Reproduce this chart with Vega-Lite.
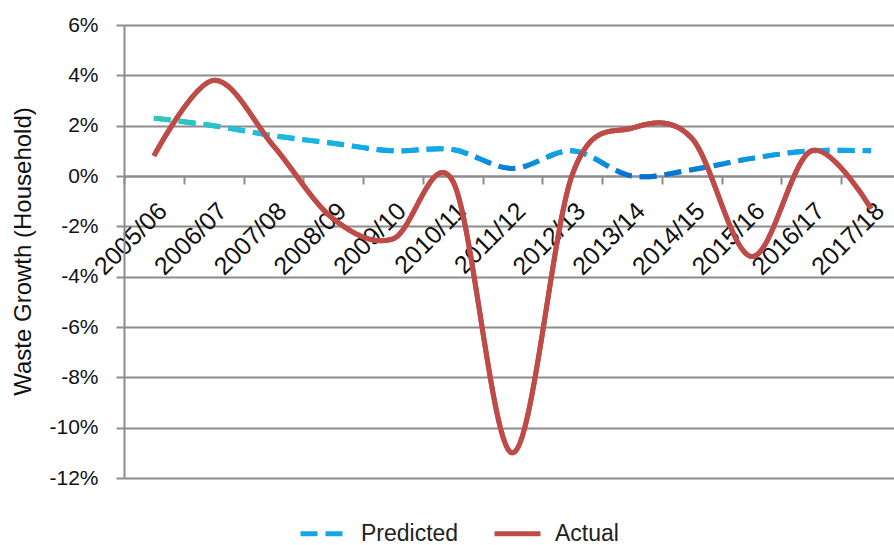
{
  "$schema": "https://vega.github.io/schema/vega-lite/v6.json",
  "width": 770,
  "height": 453,
  "autosize": "none",
  "padding": {"left": 124, "top": 25, "right": 0, "bottom": 67},
  "background": "white",
  "config": {
    "view": {"stroke": null},
    "font": "Liberation Sans",
    "legend": {"labelFont": "Liberation Sans", "labelFontSize": 23, "labelColor": "#222222"}
  },
  "data": {
    "values": [
      {"year": "2005/06", "series": "Predicted", "value": 2.3},
      {"year": "2006/07", "series": "Predicted", "value": 2.0},
      {"year": "2007/08", "series": "Predicted", "value": 1.6},
      {"year": "2008/09", "series": "Predicted", "value": 1.3},
      {"year": "2009/10", "series": "Predicted", "value": 1.0},
      {"year": "2010/11", "series": "Predicted", "value": 1.05},
      {"year": "2011/12", "series": "Predicted", "value": 0.3},
      {"year": "2012/13", "series": "Predicted", "value": 1.0},
      {"year": "2013/14", "series": "Predicted", "value": 0.0},
      {"year": "2014/15", "series": "Predicted", "value": 0.25},
      {"year": "2015/16", "series": "Predicted", "value": 0.7},
      {"year": "2016/17", "series": "Predicted", "value": 1.0},
      {"year": "2017/18", "series": "Predicted", "value": 1.0},
      {"year": "2005/06", "series": "Actual", "value": 0.8},
      {"year": "2006/07", "series": "Actual", "value": 3.8},
      {"year": "2007/08", "series": "Actual", "value": 1.2},
      {"year": "2008/09", "series": "Actual", "value": -1.7},
      {"year": "2009/10", "series": "Actual", "value": -2.5},
      {"year": "2010/11", "series": "Actual", "value": -0.2},
      {"year": "2011/12", "series": "Actual", "value": -11.0},
      {"year": "2012/13", "series": "Actual", "value": 0.05},
      {"year": "2013/14", "series": "Actual", "value": 1.9},
      {"year": "2014/15", "series": "Actual", "value": 1.5},
      {"year": "2015/16", "series": "Actual", "value": -3.2},
      {"year": "2016/17", "series": "Actual", "value": 1.0},
      {"year": "2017/18", "series": "Actual", "value": -1.3}
    ]
  },
  "encoding": {
    "x": {
      "field": "year", "type": "ordinal", "sort": null,
      "scale": {"type": "band", "paddingInner": 0, "paddingOuter": 0, "range": [0, 777]},
      "axis": {
        "title": null, "offset": -302, "tickBand": "extent", "grid": false,
        "labelAngle": -45, "labelAlign": "right", "labelBaseline": "top",
        "labelFont": "Liberation Sans", "labelFontSize": 25, "labelColor": "#111111",
        "labelPadding": 14, "labelOverlap": false,
        "domainColor": "#8c8c8c", "domainWidth": 2,
        "tickColor": "#8c8c8c", "tickWidth": 2, "tickSize": 8
      }
    },
    "y": {
      "field": "value", "type": "quantitative",
      "scale": {"domain": [-12, 6], "nice": false, "zero": false},
      "axis": {
        "title": "Waste Growth (Household)", "titleFont": "Liberation Sans", "titleFontSize": 24,
        "titleFontWeight": "normal", "titleColor": "#111111",
        "titleX": -101, "titleY": 226, "titleAngle": -90, "titleAlign": "center", "titleBaseline": "middle",
        "values": [-12, -10, -8, -6, -4, -2, 0, 2, 4, 6],
        "labelExpr": "datum.value + '%'",
        "labelFont": "Liberation Sans", "labelFontSize": 21, "labelColor": "#111111", "labelPadding": 18,
        "domainColor": "#8c8c8c", "domainWidth": 2,
        "tickColor": "#8c8c8c", "tickWidth": 2, "tickSize": 8,
        "grid": true, "gridColor": "#8c8c8c", "gridWidth": 2
      }
    }
  },
  "layer": [
    {
      "mark": {"type": "line", "interpolate": "cardinal", "strokeWidth": 5},
      "encoding": {
        "color": {
          "field": "series", "type": "nominal",
          "scale": {"domain": ["Predicted", "Actual"], "range": ["#17a6e4", "#be4b48"]},
          "legend": {"title": null, "orient": "none", "legendX": 174, "legendY": 483, "direction": "horizontal",
                     "symbolType": "stroke", "symbolSize": 2116, "symbolStrokeWidth": 5,
                     "labelOffset": 12, "columnPadding": 25}
        },
        "strokeDash": {
          "field": "series", "type": "nominal",
          "scale": {"domain": ["Predicted", "Actual"], "range": [[17, 8], [1, 0]]},
          "legend": {"title": null, "orient": "none", "legendX": 174, "legendY": 483, "direction": "horizontal",
                     "symbolType": "stroke", "symbolSize": 2116, "symbolStrokeWidth": 5,
                     "labelOffset": 12, "columnPadding": 25}
        }
      }
    },
    {
      "transform": [{"filter": "datum.series === 'Predicted'"}],
      "mark": {
        "type": "line", "interpolate": "cardinal", "strokeWidth": 5, "strokeDash": [17, 8],
        "stroke": {
          "gradient": "linear", "x1": 0, "y1": 0, "x2": 0, "y2": 1,
          "stops": [
            {"offset": 0, "color": "#2fc8b8"},
            {"offset": 0.3, "color": "#1bbde0"},
            {"offset": 0.57, "color": "#12a5e6"},
            {"offset": 1, "color": "#0a6ccf"}
          ]
        }
      },
      "encoding": {}
    },
    {
      "transform": [{"filter": "datum.series === 'Actual'"}],
      "mark": {"type": "line", "interpolate": "cardinal", "strokeWidth": 5, "stroke": "#be4b48"},
      "encoding": {}
    }
  ]
}
